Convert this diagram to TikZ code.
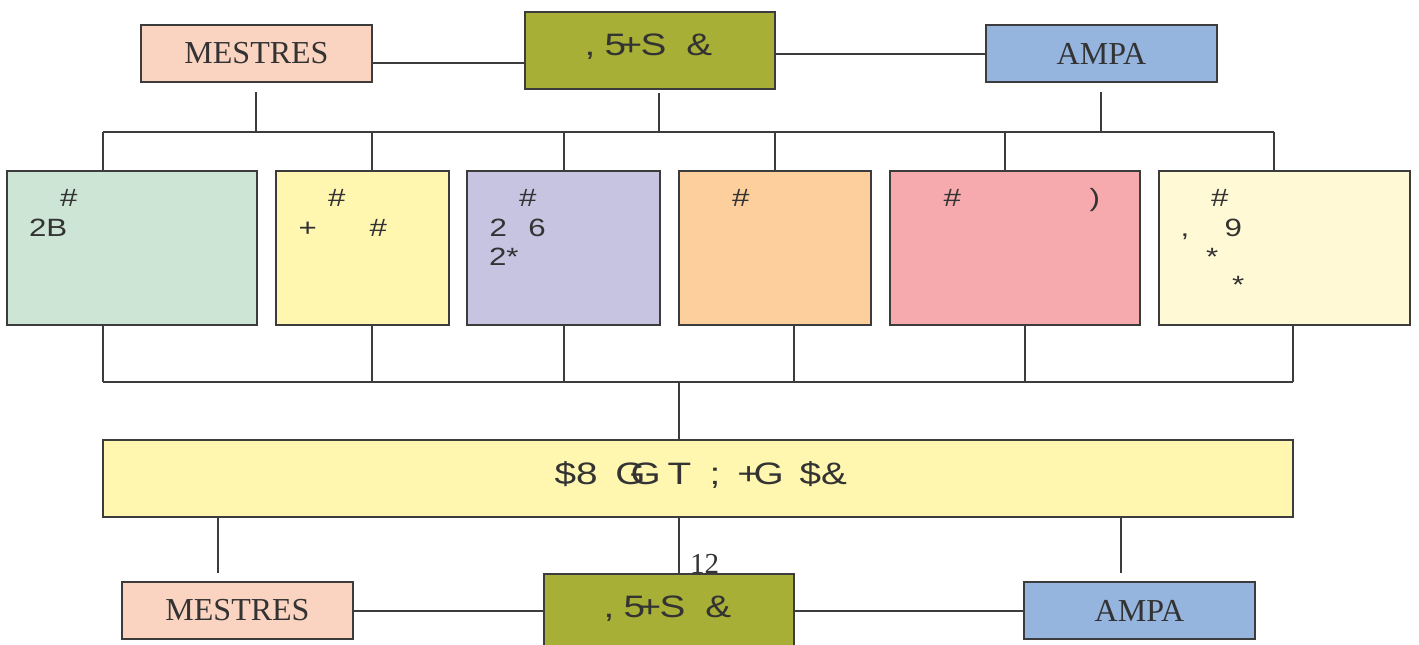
\documentclass[tikz,border=0pt]{standalone}
\usepackage{fontspec}
\setmainfont{Liberation Serif}
\newfontfamily\gsans[FakeStretch=1.25]{Liberation Sans}
\definecolor{linec}{HTML}{3C3C3C}
\definecolor{txtc}{HTML}{333333}
\definecolor{cmes}{HTML}{FBD3C1}
\definecolor{cgrn}{HTML}{A8AF36}
\definecolor{campa}{HTML}{95B4DE}
\definecolor{cb1}{HTML}{CCE5D5}
\definecolor{cb2}{HTML}{FFF6B0}
\definecolor{cb3}{HTML}{C7C4E2}
\definecolor{cb4}{HTML}{FDCF9C}
\definecolor{cb5}{HTML}{F6AAAD}
\definecolor{cb6}{HTML}{FFF9D5}
\definecolor{cbig}{HTML}{FFF7B0}
\newcommand\gtok[2]{\rlap{\hspace{#1pt}#2}}
\begin{document}
\begin{tikzpicture}[x=1pt,y=-1pt,
  box/.style={draw=linec, line width=1.8pt, inner sep=0pt, outer sep=0pt, text=txtc},
  conn/.style={draw=linec, line width=1.5pt},
  serif/.style={font=\fontsize{32pt}{32pt}\selectfont},
  gtxt/.style={anchor=base west, inner sep=0pt, outer sep=0pt, text=txtc, font=\gsans\fontsize{25pt}{25pt}\selectfont},
  gbig/.style={gtxt, font=\gsans\fontsize{31pt}{31pt}\selectfont}]
\useasboundingbox (0,0) rectangle (1419,645);
% top row
\node[box, serif, fill=cmes, minimum width=231pt, minimum height=57pt] (mes1) at (256.5,53.5) {MESTRES};
\node[box, fill=cgrn, minimum width=250pt, minimum height=77pt] (grn1) at (650,50.5) {};
\node[box, serif, fill=campa, minimum width=231pt, minimum height=57pt] (ampa1) at (1101.5,53.5) {AMPA};
% middle boxes
\node[box, fill=cb1, minimum width=250pt, minimum height=154pt] (b1) at (132,248) {};
\node[box, fill=cb2, minimum width=173pt, minimum height=154pt] (b2) at (362.5,248) {};
\node[box, fill=cb3, minimum width=193pt, minimum height=154pt] (b3) at (563.5,248) {};
\node[box, fill=cb4, minimum width=192pt, minimum height=154pt] (b4) at (775,248) {};
\node[box, fill=cb5, minimum width=250pt, minimum height=154pt] (b5) at (1015,248) {};
\node[box, fill=cb6, minimum width=251pt, minimum height=154pt] (b6) at (1284.5,248) {};
% big box
\node[box, fill=cbig, minimum width=1190pt, minimum height=77pt] (big) at (698,478.5) {};
% bottom row
\node[box, serif, fill=cmes, minimum width=231pt, minimum height=57pt] (mes2) at (237.5,610.5) {MESTRES};
\node[box, fill=cgrn, minimum width=250pt, minimum height=77pt] (grn2) at (669,612.5) {};
\node[box, serif, fill=campa, minimum width=231pt, minimum height=57pt] (ampa2) at (1139.5,610.5) {AMPA};
% texts
\node[gbig] (tg1) at (584,55) {\gtok{0}{,}\gtok{20}{5}\gtok{35}{+}\gtok{56}{S}\gtok{102}{\&}};
\node[gbig] (tg2) at (603,617) {\gtok{0}{,}\gtok{20}{5}\gtok{35}{+}\gtok{56}{S}\gtok{102}{\&}};
\node[gbig] (tbig) at (554,484) {\gtok{0}{\$8}\gtok{61}{G}\gtok{76}{G}\gtok{113}{T}\gtok{155}{;}\gtok{183}{+}\gtok{199}{G}\gtok{245}{\$\&}};
\node[gtxt] (t1a) at (60,206) {\#};
\node[gtxt] (t1b) at (29,236) {2B};
\node[gtxt] (t2a) at (328,206) {\#};
\node[gtxt] (t2b) at (298,236) {\gtok{0}{+}\gtok{71}{\#}};
\node[gtxt] (t3a) at (519,206) {\#};
\node[gtxt] (t3b) at (489,236) {\gtok{0}{2}\gtok{39}{6}};
\node[gtxt] (t3c) at (489,265) {2*};
\node[gtxt] (t4a) at (732,206) {\#};
\node[gtxt] (t5a) at (943,206) {\gtok{0}{\#}\gtok{146}{)}};
\node[gtxt] (t6a) at (1211,206) {\#};
\node[gtxt] (t6b) at (1180,236) {\gtok{0}{,}\gtok{44}{9}};
\node[gtxt] (t6c) at (1206,265) {*};
\node[gtxt] (t6d) at (1232,293) {*};
\node[anchor=base west, inner sep=0pt, text=txtc, font=\fontsize{29pt}{29pt}\selectfont] (lab12) at (690,573) {12};
% coordinates
\coordinate (busT) at (103,132);
\coordinate (d1) at (103,132);
\coordinate (d2) at (372,132);
\coordinate (d3) at (564,132);
\coordinate (d4) at (775,132);
\coordinate (d5) at (1005,132);
\coordinate (d6) at (1274,132);
\coordinate (ms) at (256,92);
\coordinate (gs) at (659,93);
\coordinate (as) at (1101,92);
\coordinate (e1) at (103,382);
\coordinate (e2) at (372,382);
\coordinate (e3) at (564,382);
\coordinate (e4) at (794,382);
\coordinate (e5) at (1025,382);
\coordinate (e6) at (1293,382);
\coordinate (m) at (679,382);
\coordinate (f1) at (218,573);
\coordinate (f3) at (1121,573);
\coordinate (hT1) at (0,63);
\coordinate (hT2) at (0,54);
\coordinate (hB) at (0,611);
% top connectors
\draw[conn] (mes1.east |- hT1) -- (grn1.west |- hT1);
\draw[conn] (grn1.east |- hT2) -- (ampa1.west |- hT2);
\draw[conn] (ms) -- (ms |- busT);
\draw[conn] (gs) -- (gs |- busT);
\draw[conn] (as) -- (as |- busT);
\draw[conn] (d1) -- (d6);
\draw[conn] (d1) -- (d1 |- b1.north);
\draw[conn] (d2) -- (d2 |- b2.north);
\draw[conn] (d3) -- (d3 |- b3.north);
\draw[conn] (d4) -- (d4 |- b4.north);
\draw[conn] (d5) -- (d5 |- b5.north);
\draw[conn] (d6) -- (d6 |- b6.north);
% lower bus
\draw[conn] (e1 |- b1.south) -- (e1);
\draw[conn] (e2 |- b2.south) -- (e2);
\draw[conn] (e3 |- b3.south) -- (e3);
\draw[conn] (e4 |- b4.south) -- (e4);
\draw[conn] (e5 |- b5.south) -- (e5);
\draw[conn] (e6 |- b6.south) -- (e6);
\draw[conn] (e1) -- (e6);
\draw[conn] (m) -- (m |- big.north);
% bottom connectors
\draw[conn] (f1 |- big.south) -- (f1);
\draw[conn] (m |- big.south) -- (m |- grn2.north);
\draw[conn] (f3 |- big.south) -- (f3);
\draw[conn] (mes2.east |- hB) -- (grn2.west |- hB);
\draw[conn] (grn2.east |- hB) -- (ampa2.west |- hB);
\end{tikzpicture}
\end{document}
